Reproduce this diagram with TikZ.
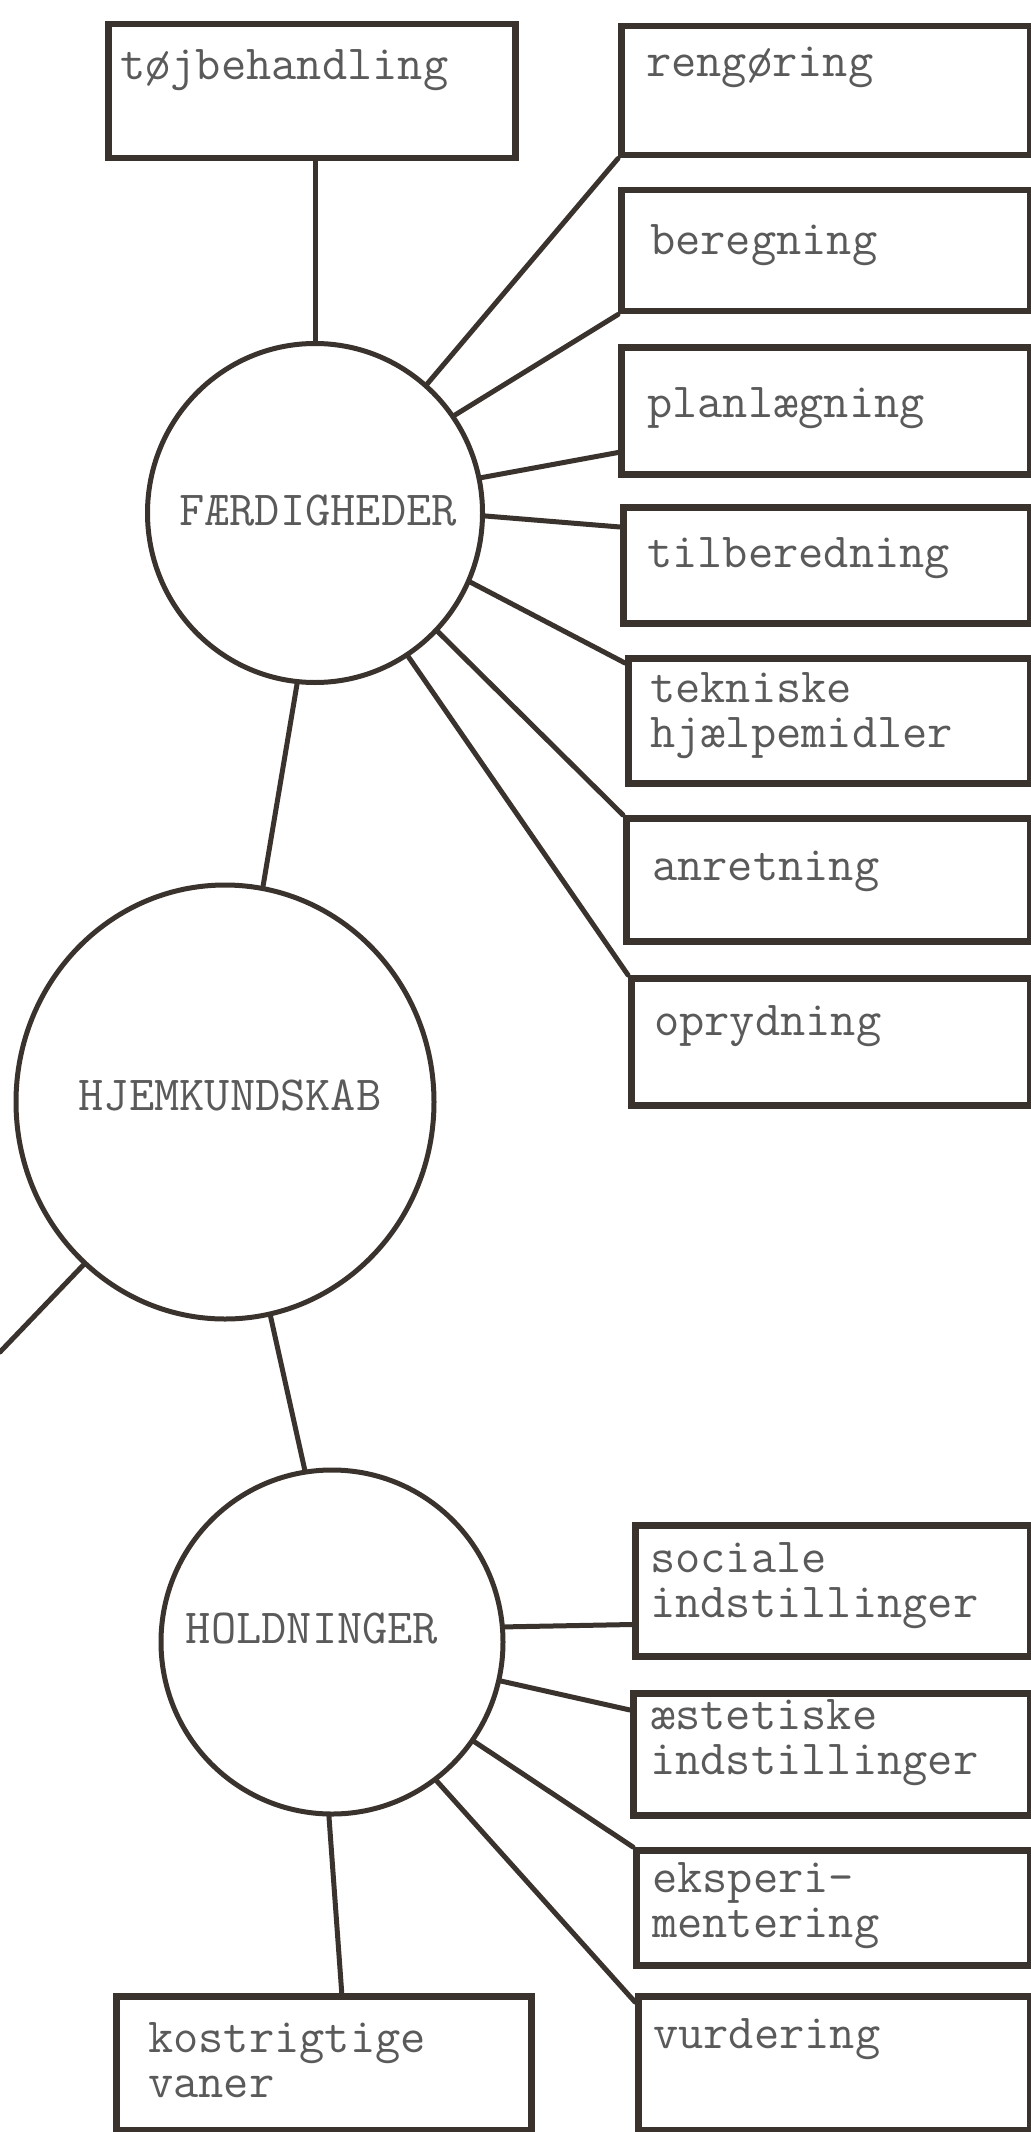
\documentclass[tikz,border=0pt]{standalone}
\usepackage{tikz}
\usetikzlibrary{shapes.geometric}
\definecolor{ink}{RGB}{58,50,45}
\definecolor{typed}{RGB}{90,90,90}

\begin{document}
\begin{tikzpicture}[x=1pt,y=-1pt,
	box/.style={draw=ink,line width=6.5pt,rectangle,anchor=north west,inner sep=0pt},
	blob/.style={draw=ink,line width=5pt,ellipse,inner sep=0pt},
	lbl/.style={anchor=base west,inner sep=0pt,align=left,text=typed,font=\fontsize{49}{45}\selectfont\ttfamily},
	link/.style={draw=ink,line width=5pt,line cap=round}]
	\useasboundingbox (0,0) rectangle (1030,2132);

%circles
	\node[blob,minimum width=335pt,minimum height=339pt] (faerd) at (315,513) {};
	\node[blob,minimum width=418pt,minimum height=434pt] (hjem) at (225,1102) {};
	\node[blob,minimum width=342pt,minimum height=344pt] (hold) at (332,1642) {};
	\node[lbl,anchor=center] (faerd-t) at ([shift={(3,-2)}]faerd) {FÆRDIGHEDER};
	\node[lbl,anchor=center] (hjem-t) at ([shift={(5,-7)}]hjem) {HJEMKUNDSKAB};
	\node[lbl,anchor=center] (hold-t) at ([shift={(-20,-13)}]hold) {HOLDNINGER};

%boxes
	\node[box,minimum width=407pt,minimum height=134pt] (toj) at (105,21) {};
	\node[box,minimum width=409pt,minimum height=129pt] (reng) at (618,23) {};
	\node[box,minimum width=409pt,minimum height=121pt] (berg) at (618,187) {};
	\node[box,minimum width=409pt,minimum height=127pt] (plan) at (618,344) {};
	\node[box,minimum width=407pt,minimum height=116pt] (tilb) at (620,504) {};
	\node[box,minimum width=402pt,minimum height=125pt] (tekn) at (625,655) {};
	\node[box,minimum width=404pt,minimum height=123pt] (anr) at (623,815) {};
	\node[box,minimum width=399pt,minimum height=127pt] (opr) at (628,975) {};
	\node[box,minimum width=395pt,minimum height=131pt] (soc) at (632,1522) {};
	\node[box,minimum width=397pt,minimum height=122pt] (aest) at (630,1690) {};
	\node[box,minimum width=394pt,minimum height=115pt] (eksp) at (633,1847) {};
	\node[box,minimum width=392pt,minimum height=134pt] (vurd) at (635,1993) {};
	\node[box,minimum width=415pt,minimum height=134pt] (kost) at (113,1993) {};

%texts (base = last line)
	\node[lbl] (toj-t) at ([shift={(15,59)}]toj.north west) {tøjbehandling};
	\node[lbl] (reng-t) at ([shift={(28,54)}]reng.north west) {rengøring};
	\node[lbl] (berg-t) at ([shift={(32,68)}]berg.north west) {beregning};
	\node[lbl] (plan-t) at ([shift={(29,73)}]plan.north west) {planlægning};
	\node[lbl] (tilb-t) at ([shift={(27,63)}]tilb.north west) {tilberedning};
	\node[lbl] (tekn-t) at ([shift={(25,92)}]tekn.north west) {tekniske\\hjælpemidler};
	\node[lbl] (anr-t) at ([shift={(29,65)}]anr.north west) {anretning};
	\node[lbl] (opr-t) at ([shift={(26,60)}]opr.north west) {oprydning};
	\node[lbl] (soc-t) at ([shift={(18,95)}]soc.north west) {sociale\\indstillinger};
	\node[lbl] (aest-t) at ([shift={(20,84)}]aest.north west) {æstetiske\\indstillinger};
	\node[lbl] (eksp-t) at ([shift={(19,90)}]eksp.north west) {eksperi-\\mentering};
	\node[lbl] (vurd-t) at ([shift={(18,55)}]vurd.north west) {vurdering};
	\node[lbl] (kost-t) at ([shift={(35,104)}]kost.north west) {kostrigtige\\vaner};

%links
	\coordinate (offleft) at (0,1352);
	\draw[link] (faerd.north) -- (faerd.north |- toj.south);
	\draw[link] (faerd.49) -- (reng.south west);
	\draw[link] (faerd.35) -- (berg.south west);
	\draw[link] (faerd.12) -- ([yshift=25pt]plan.south west);
	\draw[link] (faerd.-1.7) -- ([yshift=-23pt]tilb.north west);
	\draw[link] (faerd.-24.7) -- ([yshift=-8pt]tekn.north west);
	\draw[link] (faerd.-44.8) -- (anr.north west);
	\draw[link] (faerd.-57) -- (opr.north west);
	\draw[link] (faerd.-96.7) -- (hjem.80.8);
	\draw[link] (hjem.-78.4) -- (hold.99);
	\draw[link] (hjem.-131.5) -- (offleft);
	\draw[link] (hold.5.3) -- ([yshift=35pt]soc.south west);
	\draw[link] (hold.-13.5) -- ([yshift=-20pt]aest.north west);
	\draw[link] (hold.-35.6) -- (eksp.north west);
	\draw[link] (hold.-53.3) -- ([yshift=-9pt]vurd.north west);
	\draw[link] (hold.-91) -- ([xshift=18pt]kost.north);
\end{tikzpicture}
\end{document}
